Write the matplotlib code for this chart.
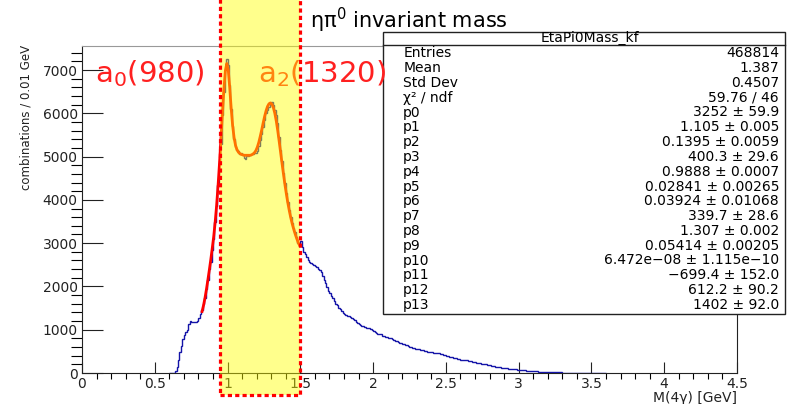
import matplotlib
matplotlib.use('Agg')
import matplotlib.pyplot as plt
import matplotlib.patches as patches
from matplotlib.ticker import MultipleLocator, FuncFormatter
import numpy as np

# histogram: 0.01 GeV bins from 0.60 to 3.60
bin_lo = 0.60
bin_w = 0.01
counts = [
    0, 0, 0, 0, 40, 150, 300, 480, 620, 780,              # 0.60
    880, 950, 1000, 1130, 1210, 1170, 1190, 1180, 1170, 1200,  # 0.70
    1280, 1370, 1450, 1600, 1740, 1950, 2150, 2400, 2560, 2850,  # 0.80
    3100, 3480, 3850, 4350, 4850, 5300, 5950, 6500, 7000, 7250,  # 0.90
    7120, 6650, 6100, 5700, 5400, 5220, 5150, 5120, 5060, 5080,  # 1.00
    5030, 4960, 4950, 5020, 5010, 5030, 5060, 5050, 5080, 5080,  # 1.10
    5120, 5250, 5380, 5530, 5680, 5850, 6000, 6080, 6150, 6230,  # 1.20
    6260, 6200, 6080, 5950, 5770, 5450, 5150, 4900, 4620, 4380,  # 1.30
    4150, 3950, 3770, 3600, 3460, 3350, 3250, 3150, 3000, 2930,  # 1.40
    3050, 2920, 2800, 2740, 2680, 2620, 2570, 2550, 2520, 2500,  # 1.50
    2480, 2460, 2410, 2380, 2340, 2250, 2160, 2080, 1990, 1900,  # 1.60
    1850, 1790, 1730, 1670, 1600, 1560, 1510, 1470, 1430, 1390,  # 1.70
    1360, 1340, 1320, 1310, 1290, 1280, 1250, 1220, 1190, 1160,  # 1.80
    1130, 1110, 1090, 1080, 1060, 1050, 1040, 1030, 1010, 990,   # 1.90
    970, 950, 930, 910, 895, 890, 850, 850, 830, 825,            # 2.00
    815, 810, 800, 780, 760, 740, 735, 705, 700, 690,            # 2.10
    680, 665, 655, 645, 630, 610, 600, 585, 570, 560,            # 2.20
    555, 545, 535, 530, 525, 515, 505, 495, 490, 480,            # 2.30
    475, 470, 465, 460, 455, 455, 450, 440, 425, 410,            # 2.40
    400, 390, 380, 370, 360, 355, 350, 340, 330, 320,            # 2.50
    310, 305, 300, 295, 290, 280, 275, 270, 262, 255,            # 2.60
    248, 240, 232, 225, 218, 210, 205, 200, 192, 186,            # 2.70
    180, 172, 165, 158, 150, 145, 138, 132, 126, 120,            # 2.80
    115, 112, 108, 104, 100, 96, 92, 88, 84, 80,                 # 2.90
    76, 72, 69, 66, 62, 58, 54, 50, 47, 44,                      # 3.00
    41, 38, 35, 32, 30, 28, 26, 24, 22, 20,                      # 3.10
    19, 18, 17, 16, 15, 14, 13, 13, 12, 12,                      # 3.20
    11, 11, 10, 10, 9, 9, 8, 8, 8, 7,                            # 3.30
    7, 7, 6, 6, 6, 5, 5, 5, 5, 4,                                # 3.40
    4, 4, 4, 3, 3, 3, 2, 2, 1, 0,                                # 3.50
]

# fit function sampled at bin centres, 0.82 .. 1.49
fit_lo = 0.82
fit_y = [
    1420, 1560, 1730, 1930, 2150, 2380, 2620, 2880,
    3150, 3480, 3870, 4330, 4850, 5420, 6000, 6550, 6980, 7150,
    7000, 6600, 6120, 5720, 5440, 5260, 5160, 5100, 5070, 5050,
    5040, 5030, 5030, 5030, 5030, 5030, 5040, 5060, 5090, 5140,
    5220, 5330, 5470, 5620, 5780, 5930, 6060, 6160, 6220, 6240,
    6210, 6130, 6000, 5820, 5600, 5350, 5090, 4830, 4580, 4340,
    4120, 3920, 3740, 3580, 3440, 3320, 3210, 3110, 3020, 2950,
]

stat_names = ['Entries', 'Mean', 'Std Dev', 'χ² / ndf',
              'p0', 'p1', 'p2', 'p3', 'p4', 'p5', 'p6', 'p7', 'p8', 'p9',
              'p10', 'p11', 'p12', 'p13']
stat_values = ['468814', '1.387', '0.4507', '59.76 / 46',
               '3252 ± 59.9', '1.105 ± 0.005', '0.1395 ± 0.0059',
               '400.3 ± 29.6', '0.9888 ± 0.0007', '0.02841 ± 0.00265',
               '0.03924 ± 0.01068', '339.7 ± 28.6', '1.307 ± 0.002',
               '0.05414 ± 0.00205', '6.472e−08 ± 1.115e−10',
               '−699.4 ± 152.0', '612.2 ± 90.2', '1402 ± 92.0']

edges = bin_lo + bin_w * np.arange(len(counts) + 1)
fit_x = fit_lo + bin_w * np.arange(len(fit_y)) + bin_w / 2

fig = plt.figure(figsize=(7.92, 4.04), dpi=100)
ax = fig.add_axes([0.1035, 0.0767, 0.827, 0.810])

ax.stairs(counts, edges, color='#1414a8', lw=1.0, zorder=3)
ax.plot(fit_x, fit_y, color='#ff0000', lw=2.0, zorder=4)

ax.set_xlim(0, 4.5)
ax.set_ylim(0, 7560)
ax.xaxis.set_major_locator(MultipleLocator(0.5))
ax.xaxis.set_minor_locator(MultipleLocator(0.1))
ax.yaxis.set_major_locator(MultipleLocator(1000))
ax.yaxis.set_minor_locator(MultipleLocator(200))
ax.xaxis.set_major_formatter(FuncFormatter(lambda v, _: f'{v:g}'))
ax.tick_params(axis='both', direction='in', labelsize=10, colors='#222222')
ax.tick_params(axis='x', which='major', length=8, width=0.8, pad=3)
ax.tick_params(axis='x', which='minor', length=4, width=0.8)
ax.tick_params(axis='y', which='major', length=15, width=0.8, pad=3)
ax.tick_params(axis='y', which='minor', length=8, width=0.8)
ax.spines['top'].set_color('#999999')
for s in ['left', 'bottom', 'right']:
    ax.spines[s].set_color('#222222')

# resonance labels
ax.text(0.089, 6722, r'a$_0$(980)', color='#ff2020', fontsize=21,
        va='baseline', ha='left', zorder=6)
ax.text(1.209, 6722, r'a$_2$(1320)', color='#ff2020', fontsize=21,
        va='baseline', ha='left', zorder=6, clip_on=False)

# highlighted window
trans = ax.get_xaxis_transform()
ax.add_patch(patches.Rectangle((0.95, -0.067), 0.547, 1.25, transform=trans,
                               facecolor='#ffff00', alpha=0.45, edgecolor='none',
                               clip_on=False, zorder=7))
ax.add_patch(patches.Rectangle((0.948, -0.067), 0.55, 1.25, transform=trans,
                               facecolor='none', edgecolor='#ff0000', lw=2.3,
                               linestyle=(0, (1.3, 1.0)), clip_on=False, zorder=8))

# stats box
ax.add_patch(patches.Rectangle((0.4836, 0.2228), 0.508, 0.698, transform=fig.transFigure,
                               facecolor='white', edgecolor='#222222', lw=1.0,
                               clip_on=False, zorder=5))
ax.plot([0.4836, 0.9916], [0.8874, 0.8874], transform=fig.transFigure,
        color='#222222', lw=1.0, clip_on=False, zorder=5.5)
ax.text(0.745, 0.905, 'EtaPi0Mass_kf', transform=fig.transFigure, fontsize=10,
        ha='center', va='center', zorder=6)
row_top = 1 - 53.3 / 404
row_step = 14.8 / 404
for i, (n, v) in enumerate(zip(stat_names, stat_values)):
    y = row_top - i * row_step
    ax.text(0.509, y, n, transform=fig.transFigure, fontsize=10,
            ha='left', va='center', zorder=6)
    ax.text(0.9836, y, v, transform=fig.transFigure, fontsize=10,
            ha='right', va='center', zorder=6)

fig.text(0.516, 0.95, r'ηπ$^{\mathregular{0}}$ invariant mass', fontsize=15,
         ha='center', va='center')
fig.text(0.033, 0.889, 'combinations / 0.01 GeV', fontsize=8.5,
         rotation=90, ha='center', va='top', color='#222222')
fig.text(0.9306, 0.016, r'M(4γ) [GeV]', fontsize=10,
         ha='right', va='center', color='#222222')

fig.savefig('out.png', dpi=100)
